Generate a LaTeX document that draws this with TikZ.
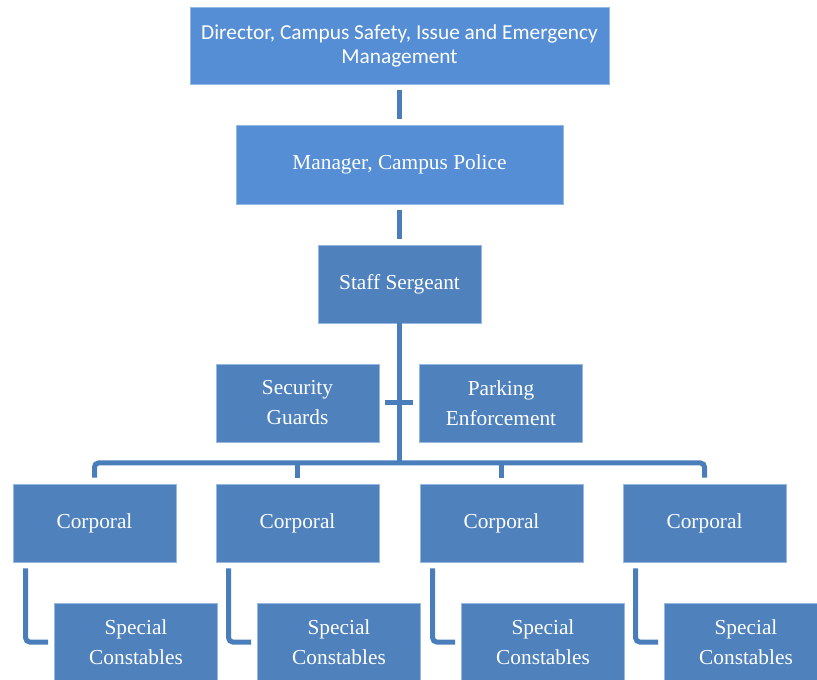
\documentclass[tikz,border=0pt]{standalone}
\usepackage{fontspec}
\setmainfont{Liberation Serif}
\newfontfamily\calfont{Carlito}
\usetikzlibrary{calc,positioning}
\definecolor{boxblue}{RGB}{79,129,189}
\definecolor{topblue}{RGB}{85,142,213}
\definecolor{linkblue}{RGB}{74,126,187}
\definecolor{edgeblue}{RGB}{150,185,225}

\begin{document}
\begin{tikzpicture}[x=0.75pt,y=-0.75pt,
    post/.style={rectangle, fill=boxblue, draw=edgeblue, line width=0.5pt, text=white,
        align=center, inner sep=0pt, minimum width=122.25pt, minimum height=58.5pt,
        font=\fontsize{16}{22.5}\selectfont},
    toppost/.style={post, fill=topblue},
    link/.style={draw=linkblue, line width=3.75pt},
    gap/.style={shorten <=4.5pt, shorten >=4.5pt}]
    \useasboundingbox (0,0) rectangle (817,680);

    \node[toppost, minimum width=314.25pt, minimum height=57.75pt,
        font=\calfont\fontsize{16}{18}\selectfont] (dir) at (399.5,45.5)
        {Director, Campus Safety, Issue and Emergency\\Management};
    \node[toppost, minimum width=245.25pt, minimum height=59.25pt] (mgr) at (399.5,164.5) {Manager, Campus Police};
    \node[post] (ss) at (399.5,284) {Staff Sergeant};
    \node[post] (sg) at (297.5,403) {Security\\Guards};
    \node[post] (pe) at (501,403) {Parking\\Enforcement};

    \foreach \i/\x in {1/94.5, 2/297.5, 3/501.5, 4/704.5} {
        \node[post] (cp\i) at (\x,523) {Corporal};
        \node[post] (sc\i) at (\x+41.5,642) {Special\\Constables};
    }

    \draw[link, gap] (dir) -- (mgr);
    \draw[link, gap] (mgr) -- (ss);
    \coordinate (bus) at (399.5,463);
    \draw[link] (ss.south) -- (bus);
    \draw[link, gap] (sg) -- (pe);
    \draw[link, gap, rounded corners=3pt] (cp1.north) |- (bus) -| (cp4.north);
    \draw[link, shorten >=4.5pt] (cp2.north |- bus) -- (cp2.north);
    \draw[link, shorten >=4.5pt] (cp3.north |- bus) -- (cp3.north);

    \foreach \i in {1,...,4}
        \draw[link, gap, rounded corners=3pt] ($(cp\i.south west)+(13,0)$) |- (sc\i.west);
\end{tikzpicture}
\end{document}
